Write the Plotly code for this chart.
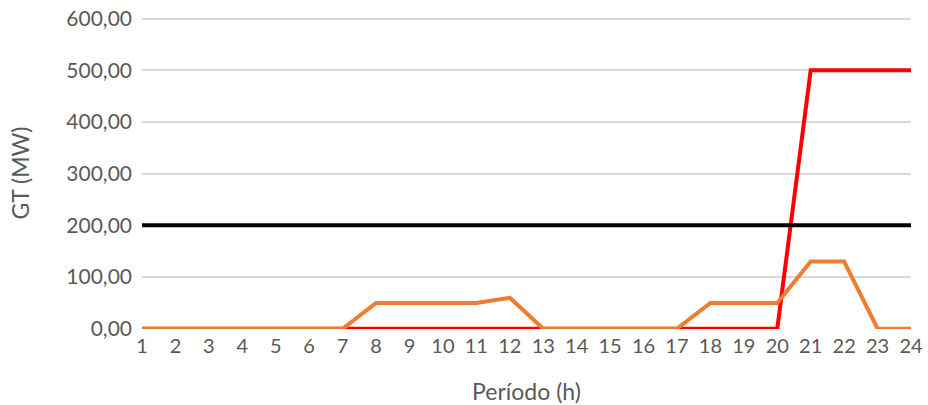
import plotly.graph_objects as go

periods = list(range(1, 25))
red_values = [0]*20 + [500, 500, 500, 500]
orange_values = [0, 0, 0, 0, 0, 0, 0, 50, 50, 50, 50, 60, 0, 0, 0, 0, 0, 50, 50, 50, 130, 130, 0, 0]
black_values = [200]*24
y_ticks = [0, 100, 200, 300, 400, 500, 600]

FONT = "Lato"
GREY = "#595959"

fig = go.Figure()
fig.add_trace(go.Scatter(x=periods, y=red_values, mode="lines",
                         line=dict(color="#ff0000", width=4), showlegend=False, cliponaxis=False))
fig.add_trace(go.Scatter(x=periods, y=orange_values, mode="lines",
                         line=dict(color="#ed7d31", width=4), showlegend=False, cliponaxis=False))
fig.add_trace(go.Scatter(x=periods, y=black_values, mode="lines",
                         line=dict(color="#000000", width=4), showlegend=False, cliponaxis=False))

fig.update_layout(
    width=928, height=405,
    margin=dict(l=142, r=17, t=17, b=76),
    paper_bgcolor="white", plot_bgcolor="white",
    separators=",.",
    font=dict(family=FONT, color=GREY, size=20),
    xaxis=dict(
        range=[1, 24], tickmode="array", tickvals=periods,
        ticktext=[str(p) for p in periods],
        showgrid=False, zeroline=False, showline=False, ticks="",
        ticklabelstandoff=3, ticklabeloverflow="allow",
        tickfont=dict(family=FONT, size=20, color=GREY),
        title=dict(text="Período (h)", font=dict(family=FONT, size=23, color=GREY), standoff=28),
        automargin=False,
    ),
    yaxis=dict(
        range=[-0.5, 603], tickmode="array", tickvals=y_ticks,
        tickformat=".2f",
        showgrid=True, gridcolor="#d9d9d9", gridwidth=1.5,
        zeroline=False, showline=False, ticks="", ticklabelstandoff=9,
        ticklabeloverflow="allow",
        tickfont=dict(family=FONT, size=21, color=GREY),
        title=dict(text="GT (MW)", font=dict(family=FONT, size=23, color=GREY), standoff=30),
        automargin=False,
    ),
)

fig.write_html("out.html",
               config={"displayModeBar": False},
               post_script="document.body.style.margin='0px';document.body.style.overflow='hidden';")
